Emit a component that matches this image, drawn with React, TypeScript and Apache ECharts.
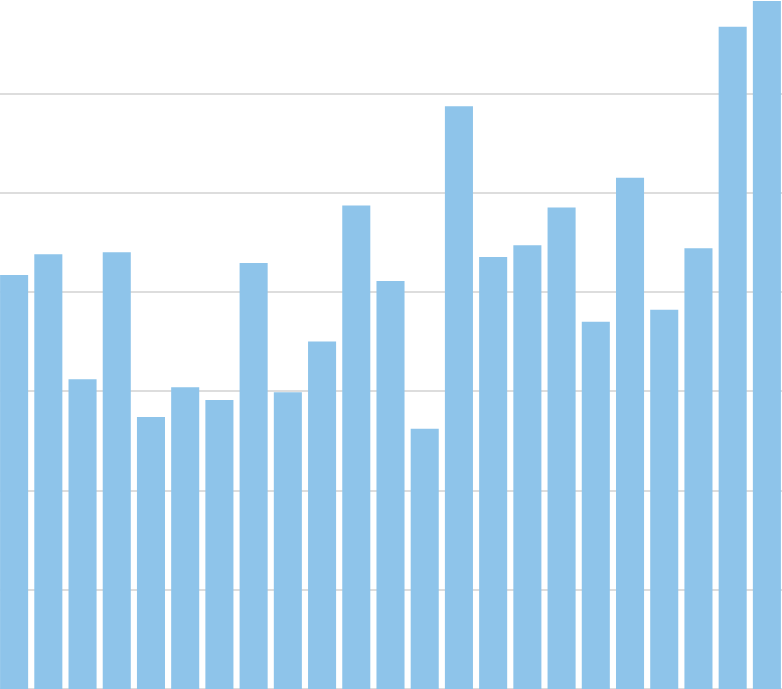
import { useEffect, useRef } from "react";
import * as echarts from "echarts";

const CATEGORIES = [
  "1", "2", "3", "4", "5", "6", "7", "8", "9", "10", "11", "12",
  "13", "14", "15", "16", "17", "18", "19", "20", "21", "22", "23",
];

const VALUES = [
  41.7, 43.8, 31.2, 44.0, 27.4, 30.4, 29.1, 42.9, 29.9, 35.0, 48.7, 41.1,
  26.2, 58.7, 43.5, 44.7, 48.5, 37.0, 51.5, 38.2, 44.4, 66.7, 69.3,
];

const Y_MIN = 0;
const Y_MAX = 70;
const Y_STEP = 10;

const BAR_COLOR = "#8ec4ea";

export default function App() {
  const chartRef = useRef<HTMLDivElement>(null);

  useEffect(() => {
    document.body.style.margin = "0";
    if (!chartRef.current) return;

    const chart = echarts.init(chartRef.current, null, { renderer: "svg" });

    chart.setOption({
      animation: false,
      grid: { left: 0, right: 0, top: 0, bottom: 0, containLabel: false },
      xAxis: {
        type: "category",
        data: CATEGORIES,
        axisLine: { show: false },
        axisTick: { show: false },
        axisLabel: { show: false },
        splitLine: { show: false },
      },
      yAxis: {
        type: "value",
        min: Y_MIN,
        max: Y_MAX,
        interval: Y_STEP,
        axisLine: { show: false },
        axisTick: { show: false },
        axisLabel: { show: false },
        splitLine: { show: true, lineStyle: { color: "#d2d2d2", width: 1.5 } },
      },
      series: [
        {
          type: "bar",
          data: VALUES,
          barCategoryGap: "18%",
          itemStyle: { color: BAR_COLOR },
        },
      ],
    });

    return () => {
      chart.dispose();
    };
  }, []);

  // the plot runs slightly past the picture's edges, so crop it
  return (
    <div style={{ position: "relative", width: "782px", height: "689px", overflow: "hidden" }}>
      <div
        ref={chartRef}
        style={{ position: "absolute", left: "-3px", top: "-6px", width: "787px", height: "695px" }}
      />
    </div>
  );
}
